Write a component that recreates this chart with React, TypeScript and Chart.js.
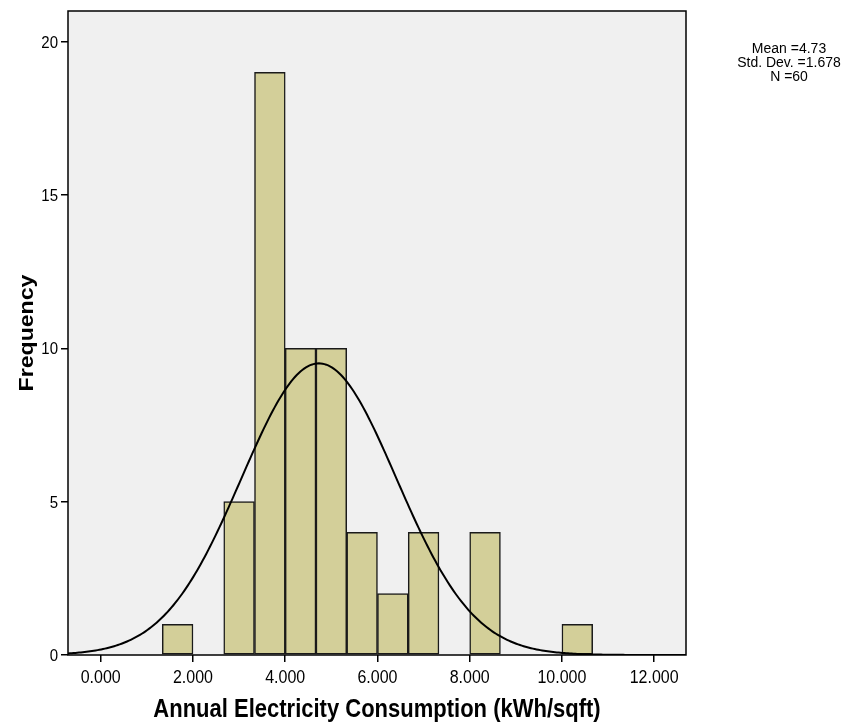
import { useEffect, useRef } from "react";
import { Chart, registerables } from "chart.js";

Chart.register(...registerables);

// Histogram bins (centre of each bin, kWh/sqft) and their counts
const binCenters = [1.667, 3.0, 3.667, 4.333, 5.0, 5.667, 6.333, 7.0, 8.333, 10.333];
const frequencies = [1, 5, 19, 10, 10, 4, 2, 4, 4, 1];
const binWidth = 2 / 3;

// Summary statistics shown beside the plot and used for the normal curve
const mean = 4.73;
const stdDev = 1.678;
const sampleSize = 60;
const statsLines = ["Mean =4.73", "Std. Dev. =1.678", "N =60"];

// Axis ticks and titles
const xTickValues = [0, 2, 4, 6, 8, 10, 12];
const xTickLabels = ["0.000", "2.000", "4.000", "6.000", "8.000", "10.000", "12.000"];
const yTickValues = [0, 5, 10, 15, 20];
const yTickLabels = ["0", "5", "10", "15", "20"];
const xTitle = "Annual Electricity Consumption (kWh/sqft)";
const yTitle = "Frequency";

const xMin = -0.71;
const xMax = 12.69;
const yMax = 21;

const FONT = "'Liberation Sans', Arial, Helvetica, sans-serif";

// Fitted normal curve scaled to the histogram's counts
function normalCurve() {
  const pts: { x: number; y: number }[] = [];
  const scale = (sampleSize * binWidth) / (stdDev * Math.sqrt(2 * Math.PI));
  for (let x = xMin; x <= xMax + 1e-9; x += 0.04) {
    const z = (x - mean) / stdDev;
    pts.push({ x, y: scale * Math.exp(-0.5 * z * z) });
  }
  return pts;
}

// Text drawn slightly taller than wide, the way the exported chart renders it
function stretchedText(
  ctx: CanvasRenderingContext2D,
  text: string,
  x: number,
  y: number,
  font: string,
  sy: number,
  align: CanvasTextAlign,
  rotate = 0,
  sx = 1
) {
  ctx.save();
  ctx.translate(x, y);
  if (rotate) ctx.rotate(rotate);
  ctx.scale(sx, sy);
  ctx.font = font;
  ctx.fillStyle = "#000";
  ctx.textAlign = align;
  ctx.textBaseline = "alphabetic";
  ctx.fillText(text, 0, 0);
  ctx.restore();
}

const plotFrame = {
  id: "plotFrame",
  beforeDatasetsDraw(chart: any) {
    const { ctx, chartArea: a } = chart;
    ctx.save();
    ctx.fillStyle = "#F0F0F0";
    ctx.fillRect(a.left, a.top, a.right - a.left, a.bottom - a.top);
    ctx.restore();
  },
  afterDraw(chart: any) {
    const { ctx, chartArea: a, scales } = chart;
    ctx.save();
    ctx.strokeStyle = "#000";
    ctx.lineWidth = 1.5;
    ctx.strokeRect(a.left, a.top, a.right - a.left, a.bottom - a.top);
    ctx.restore();

    // tick labels
    xTickValues.forEach((v, i) => {
      stretchedText(ctx, xTickLabels[i], scales.x.getPixelForValue(v), 683, `16px ${FONT}`, 1.2, "center");
    });
    yTickValues.forEach((v, i) => {
      stretchedText(ctx, yTickLabels[i], 58, scales.y.getPixelForValue(v) + 6, `15px ${FONT}`, 1.12, "right");
    });

    // axis titles
    stretchedText(ctx, xTitle, (a.left + a.right) / 2, 717, `bold 22px ${FONT}`, 1.2, "center");
    stretchedText(ctx, yTitle, 33, (a.top + a.bottom) / 2, `bold 21px ${FONT}`, 1, "center", -Math.PI / 2, 1.1);

    // statistics legend
    statsLines.forEach((line, i) => {
      stretchedText(ctx, line, 789, 53 + i * 14, `14px ${FONT}`, 1.1, "center");
    });
  },
};

export default function App() {
  const canvasRef = useRef<HTMLCanvasElement | null>(null);

  useEffect(() => {
    if (!canvasRef.current) return;
    const chart = new Chart(canvasRef.current, {
      type: "bar",
      data: {
        datasets: [
          {
            type: "line",
            data: normalCurve(),
            borderColor: "#000",
            borderWidth: 2,
            pointRadius: 0,
            tension: 0,
            fill: false,
            order: 0,
          } as any,
          {
            type: "bar",
            data: binCenters.map((x, i) => ({ x, y: frequencies[i] })),
            backgroundColor: "#D3CF99",
            borderColor: "#1a1a1a",
            borderWidth: 1.5,
            borderSkipped: false,
            barPercentage: 1,
            categoryPercentage: 1,
            order: 1,
          } as any,
        ],
      },
      options: {
        responsive: false,
        animation: false,
        layout: { padding: { top: 11, right: 173, left: 0, bottom: 0 } },
        plugins: { legend: { display: false }, tooltip: { enabled: false } },
        scales: {
          x: {
            type: "linear",
            offset: false,
            min: xMin,
            max: xMax,
            afterBuildTicks: (s: any) => {
              s.ticks = xTickValues.map((v) => ({ value: v }));
            },
            afterFit: (s: any) => {
              s.height = 71;
            },
            ticks: { display: false },
            grid: {
              display: true,
              offset: false,
              drawOnChartArea: false,
              drawTicks: true,
              tickLength: 7,
              color: "#000",
              lineWidth: 1.5,
            },
            border: { display: false },
            title: { display: false },
          },
          y: {
            type: "linear",
            min: 0,
            max: yMax,
            afterBuildTicks: (s: any) => {
              s.ticks = yTickValues.map((v) => ({ value: v }));
            },
            afterFit: (s: any) => {
              s.width = 68;
            },
            ticks: { display: false },
            grid: {
              display: true,
              drawOnChartArea: false,
              drawTicks: true,
              tickLength: 7,
              color: "#000",
              lineWidth: 1.5,
            },
            border: { display: false },
            title: { display: false },
          },
        },
      },
      plugins: [plotFrame],
    });
    return () => chart.destroy();
  }, []);

  return (
    <div style={{ position: "fixed", left: 0, top: 0, width: 859, height: 726, background: "#fff" }}>
      <canvas ref={canvasRef} width={859} height={726} />
    </div>
  );
}
